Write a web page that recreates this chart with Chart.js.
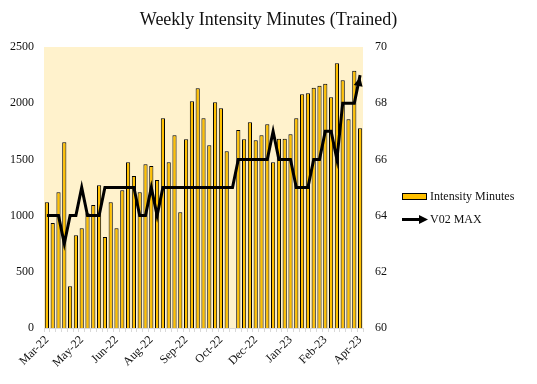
<!DOCTYPE html>
<html lang="en">
<head>
<meta charset="UTF-8">
<title>Weekly Intensity Minutes (Trained)</title>
<script src="https://cdn.jsdelivr.net/npm/chart.js@4.4.0/dist/chart.umd.min.js"></script>
<style>
    * { margin: 0; padding: 0; box-sizing: border-box; }
    body { background: #fff; width: 537px; height: 384px; overflow: hidden; }
    .wrap { position: relative; width: 537px; height: 384px; }
</style>
</head>
<body>
<div class="wrap"><canvas id="chart"></canvas></div>
<script>
// weekly categories (week starting Mar 28 2022), shown every 6th week
const weeks = [
    'Mar-22',
    'Apr-22', 'Apr-22', 'Apr-22', 'Apr-22',
    'May-22', 'May-22', 'May-22', 'May-22', 'May-22',
    'Jun-22', 'Jun-22', 'Jun-22', 'Jun-22',
    'Jul-22', 'Jul-22', 'Jul-22', 'Jul-22',
    'Aug-22', 'Aug-22', 'Aug-22', 'Aug-22', 'Aug-22',
    'Sep-22', 'Sep-22', 'Sep-22', 'Sep-22',
    'Oct-22', 'Oct-22', 'Oct-22', 'Oct-22', 'Oct-22',
    'Nov-22', 'Nov-22', 'Nov-22', 'Nov-22',
    'Dec-22', 'Dec-22', 'Dec-22', 'Dec-22',
    'Jan-23', 'Jan-23', 'Jan-23', 'Jan-23', 'Jan-23',
    'Feb-23', 'Feb-23', 'Feb-23', 'Feb-23',
    'Mar-23', 'Mar-23', 'Mar-23', 'Mar-23',
    'Apr-23', 'Apr-23'
];

const intensityMinutes = [
    1118, 934, 1207, 1652, 371, 825, 887, 1020, 1094, 1270,
    810, 1118, 887, 1225, 1474, 1352, 1207, 1456, 1441, 1317,
    1866, 1474, 1714, 1029, 1679, 2017, 2132, 1866, 1625, 2008,
    1955, 1572, null, 1762, 1679, 1830, 1670, 1714, 1812, 1474,
    1684, 1684, 1723, 1866, 2079, 2088, 2138, 2156, 2174, 2052,
    2355, 2204, 1857, 2289, 1777
];

const vo2Max = [
    64, 64, 64, 63, 64, 64, 65, 64, 64, 64,
    65, 65, 65, 65, 65, 65, 64, 64, 65, 64,
    65, 65, 65, 65, 65, 65, 65, 65, 65, 65,
    65, 65, 65, 66, 66, 66, 66, 66, 66, 67,
    66, 66, 66, 65, 65, 65, 66, 66, 67, 67,
    66, 68, 68, 68, 69
];

const BAR_COLOR = '#FFC000';
const PLOT_BG = '#FFF2CC';
const FONT = "'Liberation Serif', 'Times New Roman', serif";

Chart.defaults.font.family = FONT;
Chart.defaults.font.size = 12;
Chart.defaults.color = '#111';

const plotBackground = {
    id: 'plotBackground',
    beforeDraw(chart) {
        const { ctx, chartArea: a } = chart;
        ctx.save();
        ctx.fillStyle = PLOT_BG;
        ctx.fillRect(a.left, a.top, a.right - a.left, a.bottom - a.top);
        ctx.restore();
    }
};

function drawArrow(ctx, x0, y0, x1, y1, len, half) {
    const ang = Math.atan2(y1 - y0, x1 - x0);
    ctx.beginPath();
    ctx.moveTo(x1, y1);
    ctx.lineTo(x1 - len * Math.cos(ang) + half * Math.sin(ang), y1 - len * Math.sin(ang) - half * Math.cos(ang));
    ctx.lineTo(x1 - len * Math.cos(ang) - half * Math.sin(ang), y1 - len * Math.sin(ang) + half * Math.cos(ang));
    ctx.closePath();
    ctx.fill();
}

// arrow head on the end of the VO2 line
const lineArrow = {
    id: 'lineArrow',
    afterDatasetsDraw(chart) {
        const pts = chart.getDatasetMeta(1).data;
        const a = pts[pts.length - 2], b = pts[pts.length - 1];
        const ctx = chart.ctx;
        ctx.save();
        ctx.fillStyle = '#000';
        drawArrow(ctx, a.x, a.y, b.x, b.y + 2, 9, 4.5);
        ctx.restore();
    }
};

const sideLegend = {
    id: 'sideLegend',
    afterDraw(chart) {
        const ctx = chart.ctx;
        ctx.save();
        ctx.fillStyle = BAR_COLOR;
        ctx.strokeStyle = '#000';
        ctx.lineWidth = 1;
        ctx.fillRect(402.5, 193.5, 24, 6);
        ctx.strokeRect(402.5, 193.5, 24, 6);

        ctx.strokeStyle = '#000';
        ctx.lineWidth = 3;
        ctx.beginPath();
        ctx.moveTo(402, 219.5);
        ctx.lineTo(420, 219.5);
        ctx.stroke();
        ctx.fillStyle = '#000';
        drawArrow(ctx, 402, 219.5, 428, 219.5, 9, 4.5);

        ctx.fillStyle = '#111';
        ctx.font = '12px ' + FONT;
        ctx.textBaseline = 'middle';
        ctx.fillText('Intensity Minutes', 430, 197);
        ctx.fillText('V02 MAX', 430, 220);
        ctx.restore();
    }
};

new Chart(document.getElementById('chart'), {
    data: {
        labels: weeks,
        datasets: [
            {
                type: 'bar',
                label: 'Intensity Minutes',
                data: intensityMinutes,
                backgroundColor: BAR_COLOR,
                borderColor: '#000',
                borderWidth: 1,
                barPercentage: 0.72,
                categoryPercentage: 1,
                yAxisID: 'y',
                order: 1
            },
            {
                type: 'line',
                label: 'V02 MAX',
                data: vo2Max,
                borderColor: '#000',
                borderWidth: 3,
                pointRadius: 0,
                tension: 0,
                yAxisID: 'y1',
                order: 0
            }
        ]
    },
    options: {
        responsive: true,
        maintainAspectRatio: false,
        animation: false,
        layout: { padding: 0 },
        plugins: {
            legend: { display: false },
            tooltip: { enabled: false },
            title: {
                display: true,
                text: 'Weekly Intensity Minutes (Trained)',
                color: '#111',
                font: { size: 18, weight: 'normal' },
                padding: { top: 9, bottom: 16.4 }
            }
        },
        scales: {
            x: {
                offset: true,
                grid: { display: true, drawOnChartArea: false, tickLength: 4, color: '#d9d9d9', offset: true },
                border: { display: true, color: '#d9d9d9' },
                ticks: {
                    autoSkip: false,
                    maxRotation: 45,
                    minRotation: 45,
                    padding: 1,
                    callback: (v, i) => (i % 6 === 0 ? weeks[i] : '')
                },
                afterFit: s => { s.height = 56; }
            },
            y: {
                position: 'left',
                min: 0,
                max: 2500,
                grid: { display: false, drawTicks: false },
                border: { display: false },
                ticks: { stepSize: 500, padding: 10, callback: v => String(v) },
                afterFit: s => { s.width = 44; }
            },
            y1: {
                position: 'right',
                min: 60,
                max: 70,
                grid: { display: false, drawTicks: false },
                border: { display: false },
                ticks: { stepSize: 2, padding: 12, callback: v => String(v) },
                // wide box leaves room on the right for the legend
                afterFit: s => { s.width = 174; }
            }
        }
    },
    plugins: [plotBackground, lineArrow, sideLegend]
});
</script>
</body>
</html>
